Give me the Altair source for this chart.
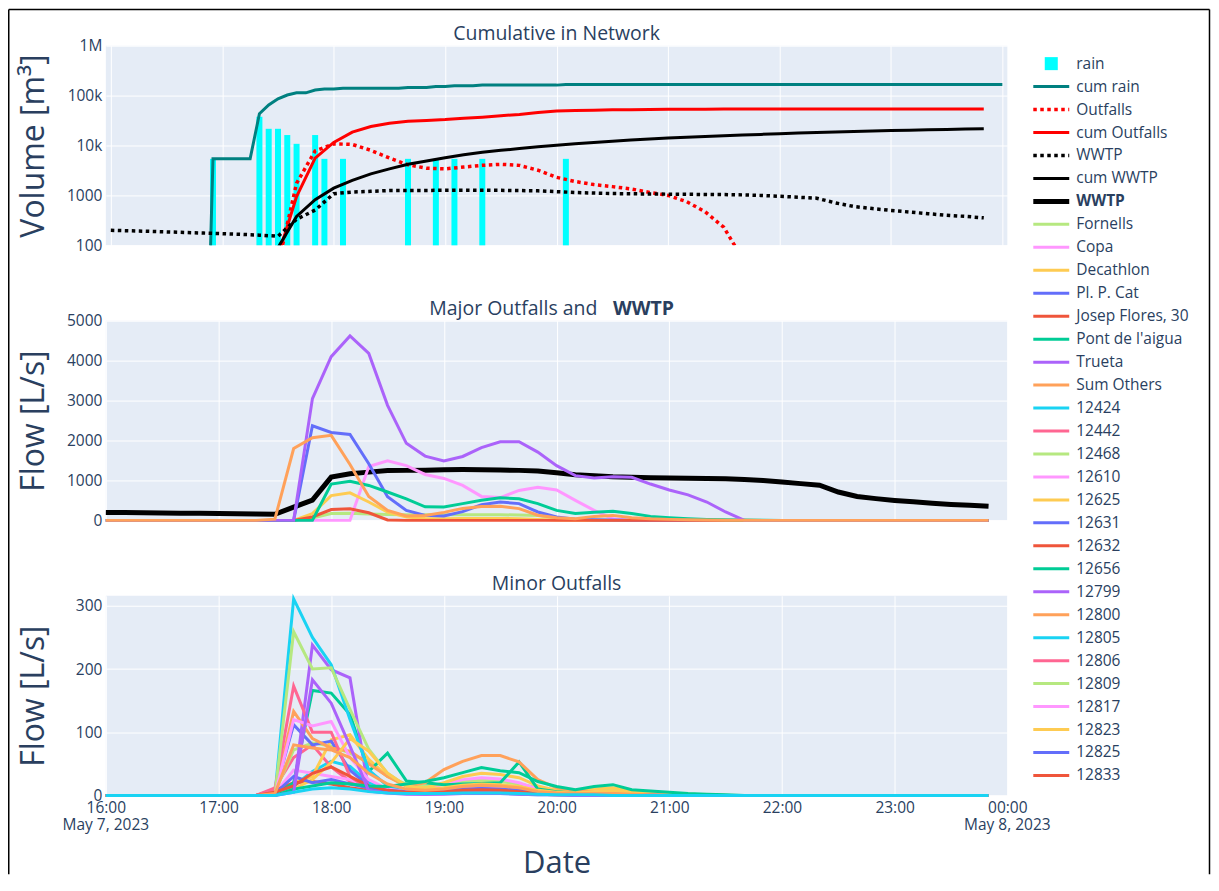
import pandas as pd
import altair as alt

FONT = "Open Sans"
TXT = "#2a3f5f"
BG = "#E5ECF6"

# ---------------- time grids ----------------
times_10 = pd.date_range("2023-05-07 16:00", periods=48, freq="10min")
times_5 = pd.date_range("2023-05-07 16:00", periods=97, freq="5min")

# ---------------- rain (5 min) [m3] ----------------
rain = ([0] * 11 + [5400] + [0] * 4
        + [37800, 21600, 21600, 16200, 10800, 0, 16200, 5400, 0, 5400]
        + [0] * 6 + [5400, 0, 0, 5400, 0, 5400, 0, 0, 5400]
        + [0] * 8 + [5400] + [0] * 47)

# ---------------- network totals (10 min) ----------------
outfalls = ([0] * 9 + [40, 1750, 7800, 10800, 10500, 8000, 5600, 4100, 3500, 3400,
                       3700, 4000, 4200, 4000, 3200, 2300, 1900, 1650, 1500, 1350,
                       1150, 1000, 750, 470, 230, 55, 20, 10] + [0] * 11)
cum_outfalls = ([0] * 9 + [60, 950, 5600, 11500, 18500, 24000, 28000, 30500, 31800, 33000,
                           35000, 37000, 39500, 42000, 46000, 49000, 50200, 51100, 51800, 52300,
                           52700, 53000, 53300, 53500, 53600] + [53600] * 14)
wwtp = [200, 196, 191, 186, 181, 176, 171, 166, 160, 152,
        333, 508, 1083, 1167, 1208, 1250, 1252, 1258, 1267, 1272,
        1270, 1262, 1252, 1235, 1190, 1145, 1115, 1090, 1078, 1068,
        1060, 1052, 1046, 1040, 1025, 1000, 960, 920, 880, 710,
        600, 545, 500, 465, 430, 400, 380, 355]
cum_wwtp = ([0] * 9 + [90, 380, 820, 1400, 2000, 2700, 3400, 4200, 4900, 5700,
                       6500, 7300, 8000, 8700, 9400, 10100, 10800, 11500, 12200, 12900,
                       13500, 14100, 14700, 15200, 15700, 16200, 16700, 17200, 17700, 18200,
                       18700, 19100, 19500, 19900, 20300, 20700, 21000, 21400, 21700])

# ---------------- major outfalls (10 min) [L/s] ----------------
major_names = ["Fornells", "Copa", "Decathlon", "Pl. P. Cat", "Josep Flores, 30",
               "Pont de l'aigua", "Trueta", "Sum Others"]
major_colors = ["#B6E880", "#FF97FF", "#FECB52", "#636efa", "#EF553B",
                "#00cc96", "#ab63fa", "#FFA15A"]
major_values = [
    [0] * 11 + [60, 170, 180, 160, 145, 140, 140, 140, 140, 140, 140, 135, 120, 60, 25, 10, 5] + [0] * 20,
    [0] * 14 + [1350, 1490, 1370, 1150, 1050, 875, 600, 570, 750, 830, 760, 500, 250, 40] + [0] * 20,
    [0] * 11 + [170, 620, 690, 460, 210, 85, 45, 40, 45, 50, 50, 40, 25, 10, 5] + [0] * 22,
    [0] * 11 + [2370, 2200, 2150, 1420, 590, 250, 125, 110, 220, 390, 460, 420, 210, 85, 30, 15, 10, 5] + [0] * 19,
    [0] * 11 + [85, 270, 290, 190, 10] + [0] * 32,
    [0] * 12 + [910, 980, 875, 710, 540, 340, 335, 420, 505, 565, 540, 420, 250, 170, 205, 230,
                170, 100, 65, 40, 25, 15, 8, 4] + [0] * 12,
    [0] * 11 + [3050, 4100, 4620, 4180, 2880, 1930, 1610, 1490, 1600, 1820, 1970, 1970, 1710, 1370,
                1120, 1060, 1090, 1080, 910, 760, 640, 460, 210, 0] + [0] * 13,
    [0] * 9 + [30, 1800, 2070, 2130, 1400, 600, 250, 110, 125, 200, 300, 345, 355, 295, 130, 67,
               42, 100, 125, 67, 40, 25, 15, 10, 5, 3] + [0] * 13,
]

# ---------------- minor outfalls (10 min) [L/s], values from 17:30 to 21:30 ----------------
minor_names = ["12424", "12442", "12468", "12610", "12625", "12631", "12632", "12656",
               "12799", "12800", "12805", "12806", "12809", "12817", "12823", "12825",
               "12833", "12843", "12851", "12862", "12870"]
minor_colors = ["#19d3f3", "#FF6692", "#B6E880", "#FF97FF", "#FECB52", "#636efa", "#EF553B",
                "#00cc96", "#ab63fa", "#FFA15A", "#19d3f3", "#FF6692", "#B6E880", "#FF97FF",
                "#FECB52", "#636efa", "#EF553B", "#00cc96", "#ab63fa", "#FFA15A", "#19d3f3"]
minor_core = [
    [0, 15, 38, 54, 46, 20, 10, 5, 4, 4, 5, 6, 6, 5, 3, 2, 1, 1, 1, 0, 0, 0, 0, 0, 0],
    [12, 60, 80, 45, 22, 10, 5, 3, 3, 4, 5, 6, 5, 3, 2, 1, 1, 1, 0, 0, 0, 0, 0, 0, 0],
    [5, 72, 83, 78, 67, 52, 30, 18, 15, 18, 22, 24, 22, 18, 12, 8, 6, 8, 9, 6, 4, 3, 2, 1, 0],
    [3, 40, 35, 30, 25, 15, 10, 8, 10, 18, 25, 28, 26, 20, 10, 6, 5, 6, 6, 4, 2, 1, 1, 0, 0],
    [0, 20, 30, 88, 96, 57, 30, 15, 12, 20, 30, 35, 33, 28, 15, 8, 6, 10, 12, 7, 4, 3, 2, 1, 0],
    [5, 112, 80, 86, 40, 15, 8, 5, 5, 8, 10, 12, 11, 8, 5, 3, 2, 2, 2, 1, 1, 0, 0, 0, 0],
    [8, 20, 22, 18, 12, 8, 5, 4, 4, 5, 7, 8, 7, 5, 3, 2, 1, 1, 1, 0, 0, 0, 0, 0, 0],
    [0, 20, 166, 162, 128, 38, 67, 23, 20, 17, 18, 19, 20, 53, 10, 6, 4, 3, 3, 2, 1, 1, 0, 0, 0],
    [0, 9, 238, 199, 186, 7, 5, 3, 2, 3, 4, 5, 5, 3, 2, 1, 1, 1, 0, 0, 0, 0, 0, 0, 0],
    [5, 133, 90, 75, 70, 50, 30, 15, 20, 41, 54, 63, 63, 53, 25, 12, 8, 5, 4, 2, 1, 0, 0, 0, 0],
    [0, 311, 250, 207, 120, 40, 15, 5, 3, 3, 3, 3, 3, 2, 1, 1, 0, 0, 0, 0, 0, 0, 0, 0, 0],
    [10, 173, 100, 100, 30, 10, 5, 3, 3, 3, 4, 4, 4, 3, 2, 1, 1, 0, 0, 0, 0, 0, 0, 0, 0],
    [0, 259, 200, 202, 136, 73, 35, 15, 10, 10, 12, 14, 13, 10, 6, 4, 3, 4, 5, 3, 2, 1, 1, 0, 0],
    [0, 120, 110, 117, 60, 25, 10, 6, 6, 8, 12, 14, 13, 10, 6, 4, 3, 3, 3, 2, 1, 1, 0, 0, 0],
    [0, 10, 25, 52, 90, 70, 35, 15, 10, 12, 16, 18, 17, 14, 8, 5, 4, 6, 7, 4, 2, 1, 1, 0, 0],
    [3, 30, 20, 25, 18, 12, 8, 6, 6, 8, 10, 11, 10, 8, 5, 3, 2, 2, 2, 1, 1, 0, 0, 0, 0],
    [5, 15, 35, 45, 30, 15, 8, 5, 5, 6, 8, 9, 8, 6, 3, 2, 1, 1, 1, 0, 0, 0, 0, 0, 0],
    [0, 10, 15, 20, 18, 15, 14, 18, 22, 28, 36, 44, 39, 36, 22, 14, 9, 14, 17, 9, 7, 5, 3, 2, 1],
    [0, 5, 183, 146, 78, 7, 4, 2, 2, 2, 3, 3, 3, 2, 1, 1, 0, 0, 0, 0, 0, 0, 0, 0, 0],
    [3, 80, 75, 72, 60, 35, 18, 10, 8, 10, 14, 16, 15, 12, 6, 4, 3, 3, 3, 2, 1, 0, 0, 0, 0],
    [0, 5, 10, 12, 10, 6, 4, 3, 3, 3, 4, 4, 4, 3, 2, 1, 1, 1, 0, 0, 0, 0, 0, 0, 0],
]
minor_values = [[0] * 9 + v + [0] * 14 for v in minor_core]

# date captions under the first and last tick
date_ticks = pd.to_datetime(["2023-05-07 16:00", "2023-05-08 00:00"])
date_labels = ["May 7, 2023", "May 8, 2023"]

# ---------------- tables ----------------
df5 = pd.DataFrame({"time": times_5, "rain": rain})
df5["cum_rain"] = df5["rain"].cumsum()
df10 = pd.DataFrame({"time": times_10, "outfalls": outfalls, "cum_outfalls": cum_outfalls,
                     "wwtp": wwtp, "cum_wwtp": cum_wwtp})
dates_df = pd.DataFrame({"time": date_ticks, "label": date_labels})


def long_table(names, colors, values):
    rows = []
    for n, c, vals in zip(names, colors, values):
        for t, v in zip(times_10, vals):
            rows.append({"time": t, "series": n, "color": c, "flow": v})
    return pd.DataFrame(rows)


major_df = long_table(major_names, major_colors, major_values)
minor_df = long_table(minor_names, minor_colors, minor_values)

# ---------------- shared encodings ----------------
x_domain = [alt.DateTime(year=2023, month=5, date=7, hours=16),
            alt.DateTime(year=2023, month=5, date=8, hours=0)]
hour_values = ([alt.DateTime(year=2023, month=5, date=7, hours=h) for h in range(16, 24)]
               + [alt.DateTime(year=2023, month=5, date=8, hours=0)])
x_hidden = alt.X("time:T", scale=alt.Scale(domain=x_domain),
                 axis=alt.Axis(title=None, labels=False, ticks=False, domain=False,
                               grid=True, values=hour_values))
x_shown = alt.X("time:T", scale=alt.Scale(domain=x_domain),
                axis=alt.Axis(title="Date", ticks=False, domain=False, grid=True,
                              values=hour_values, format="%H:%M", labelFlush=False,
                              labelOverlap=False, labelBaseline="middle", labelPadding=12,
                              titlePadding=33, titleFontSize=31))


def y_axis(title, values, pad, label_expr=None):
    kw = dict(title=title, values=values, grid=True, labelPadding=4, titlePadding=pad)
    if label_expr:
        kw["labelExpr"] = label_expr
    else:
        kw["format"] = "d"
    return alt.Axis(**kw)


log_axis = y_axis("Volume [m³]", [100, 1000, 10000, 100000, 1000000], 16,
                  "datum.value >= 1000000 ? '1M' : datum.value >= 10000 ? "
                  "format(datum.value / 1000, 'd') + 'k' : format(datum.value, 'd')")


def ylog(field):
    return alt.Y(f"{field}:Q", scale=alt.Scale(type="log", domain=[100, 1000000], nice=False),
                 axis=log_axis)


def panel_title(text, x, align, bold=False):
    return alt.Chart(pd.DataFrame({"t": [text]})).mark_text(
        align=align, baseline="alphabetic", font=FONT, fontSize=19.5,
        fontWeight="bold" if bold else "normal", color=TXT).encode(
        text="t:N", x=alt.value(x), y=alt.value(-5.5))


# thin black frame around the figure
_one = pd.DataFrame({"k": [0]})


def hline(x0, x1, y):
    return alt.Chart(_one).mark_rule(color="black", strokeWidth=1.5).encode(
        x=alt.value(x0), x2=alt.value(x1), y=alt.value(y))


def vline(x, y0, y1):
    return alt.Chart(_one).mark_rule(color="black", strokeWidth=1.5).encode(
        x=alt.value(x), y=alt.value(y0), y2=alt.value(y1))


FX0, FX1, FY0, FY1 = -97.25, 1105.5, -36.25, 830

# ---------------- top panel ----------------
bars = alt.Chart(df5).transform_filter("datum.rain > 0").transform_calculate(
    floor="100").mark_bar(size=6, color="#00FFFF").encode(
    x=x_hidden, y=ylog("rain"), y2="floor:Q")
cum_rain_line = alt.Chart(df5).transform_calculate(
    cr="max(datum.cum_rain, 0.001)").mark_line(
    color="#008080", strokeWidth=3, clip=True).encode(x=x_hidden, y=ylog("cr"))
out_line = alt.Chart(df10).transform_filter("datum.outfalls > 0").mark_line(
    color="red", strokeWidth=3.5, strokeDash=[3.5, 3.5], clip=True).encode(x=x_hidden, y=ylog("outfalls"))
cum_out_line = alt.Chart(df10).transform_filter("datum.cum_outfalls > 0").mark_line(
    color="red", strokeWidth=3, clip=True).encode(x=x_hidden, y=ylog("cum_outfalls"))
wwtp_dot = alt.Chart(df10).mark_line(
    color="black", strokeWidth=3.5, strokeDash=[3.5, 3.5], clip=True).encode(x=x_hidden, y=ylog("wwtp"))
cum_wwtp_line = alt.Chart(df10).transform_filter("datum.cum_wwtp > 0").mark_line(
    color="black", strokeWidth=3, clip=True).encode(x=x_hidden, y=ylog("cum_wwtp"))

top_main = alt.layer(bars, cum_rain_line, out_line, cum_out_line, wwtp_dot, cum_wwtp_line,
                     panel_title("Cumulative in Network", 451.5, "center"))

# ---------------- legend (to the right of the panels) ----------------
top_names = ["rain", "cum rain", "Outfalls", "cum Outfalls", "WWTP", "cum WWTP", "WWTP"]
top_colors = ["#00FFFF", "#008080", "red", "red", "black", "black", "black"]
top_styles = ["square", "solid", "dot", "solid", "dot", "solid", "bold"]
shown_minor = 17  # the legend box ends after 12833
leg_names = top_names + major_names + minor_names[:shown_minor]
leg_colors = top_colors + major_colors + minor_colors[:shown_minor]
leg_styles = top_styles + ["solid"] * (len(major_names) + shown_minor)
leg_df = pd.DataFrame({"row": list(range(len(leg_names))), "name": leg_names,
                       "color": leg_colors, "style": leg_styles})

ROW0 = 18
y_leg = alt.Y("row:Q", scale=alt.Scale(domain=[-ROW0 / 23, (200 - ROW0) / 23], reverse=True,
                                       nice=False, zero=False), axis=None)
LX0, LX1, LSQ, LTX = 929, 965, 947, 972
leg_base = alt.Chart(leg_df)
col = alt.Color("color:N", scale=None)
leg_sq = leg_base.transform_filter("datum.style == 'square'").mark_square(
    size=170, opacity=1).encode(x=alt.value(LSQ), y=y_leg, color=col)
leg_solid = leg_base.transform_filter("datum.style == 'solid'").mark_rule(
    strokeWidth=3).encode(x=alt.value(LX0), x2=alt.value(LX1), y=y_leg, color=col)
leg_dot = leg_base.transform_filter("datum.style == 'dot'").mark_rule(
    strokeWidth=3.5, strokeDash=[3.5, 3.5]).encode(
    x=alt.value(LX0), x2=alt.value(LX1), y=y_leg, color=col)
leg_bold = leg_base.transform_filter("datum.style == 'bold'").mark_rule(
    strokeWidth=5).encode(x=alt.value(LX0), x2=alt.value(LX1), y=y_leg, color=col)
leg_text = leg_base.transform_filter("datum.style != 'bold'").mark_text(
    align="left", baseline="middle", font=FONT, fontSize=15.5, color=TXT).encode(
    x=alt.value(LTX), y=y_leg, text="name:N")
leg_text_b = leg_base.transform_filter("datum.style == 'bold'").mark_text(
    align="left", baseline="middle", font=FONT, fontSize=15.5, fontWeight="bold",
    color=TXT).encode(x=alt.value(LTX), y=y_leg, text="name:N")
legend = alt.layer(leg_sq, leg_solid, leg_dot, leg_bold, leg_text, leg_text_b)

frame = alt.layer(hline(FX0, FX1, FY0), vline(FX0, FY0, FY1), vline(FX1, FY0, FY1))

top = alt.layer(top_main, legend, frame).resolve_scale(y="independent").properties(
    width=903, height=200, view=alt.ViewBackground(fill=BG, strokeWidth=0))

# ---------------- middle panel ----------------
flow_axis_major = y_axis("Flow [L/s]", [0, 1000, 2000, 3000, 4000, 5000], 16)
y_major = alt.Y("flow:Q", scale=alt.Scale(domain=[0, 5000], nice=False), axis=flow_axis_major)
wwtp_bold = alt.Chart(df10).mark_line(color="black", strokeWidth=5).encode(
    x=x_hidden, y=alt.Y("wwtp:Q", scale=alt.Scale(domain=[0, 5000], nice=False), axis=flow_axis_major))
major_lines = alt.Chart(major_df).mark_line(strokeWidth=3).encode(
    x=x_hidden, y=y_major, color=alt.Color("color:N", scale=None), detail="series:N")

middle = alt.layer(wwtp_bold, major_lines,
                   panel_title("Major Outfalls and", 324, "left"),
                   panel_title("WWTP", 508, "left", bold=True)).properties(
    width=903, height=200, view=alt.ViewBackground(fill=BG, strokeWidth=0))

# ---------------- bottom panel ----------------
flow_axis_minor = y_axis("Flow [L/s]", [0, 100, 200, 300], 25)
minor_lines = alt.Chart(minor_df).mark_line(strokeWidth=3).encode(
    x=x_shown,
    y=alt.Y("flow:Q", scale=alt.Scale(domain=[0, 316], nice=False), axis=flow_axis_minor),
    color=alt.Color("color:N", scale=None), detail="series:N")
date_text = alt.Chart(dates_df).mark_text(
    baseline="middle", align="center", font=FONT, fontSize=15.5, color=TXT).encode(
    x=x_shown, y=alt.value(230), text="label:N")
bottom = alt.layer(minor_lines, date_text,
                   panel_title("Minor Outfalls", 451.5, "center")).properties(
    width=903, height=200, view=alt.ViewBackground(fill=BG, strokeWidth=0))

# ---------------- assemble ----------------
chart = alt.vconcat(top, middle, bottom, spacing=75.5, bounds="flush").resolve_scale(
    x="independent", y="independent").properties(
    padding={"left": 0, "top": 0, "right": 0, "bottom": 0}
).configure(font=FONT).configure_axis(
    labelFont=FONT, titleFont=FONT, labelColor=TXT, titleColor=TXT, labelFontSize=15.5,
    titleFontSize=32, titleFontWeight="normal", gridColor="white", gridWidth=1,
    domain=False, ticks=False
).configure_view(strokeWidth=0)

chart.save("out.html", embed_options={"renderer": "svg", "actions": False})
